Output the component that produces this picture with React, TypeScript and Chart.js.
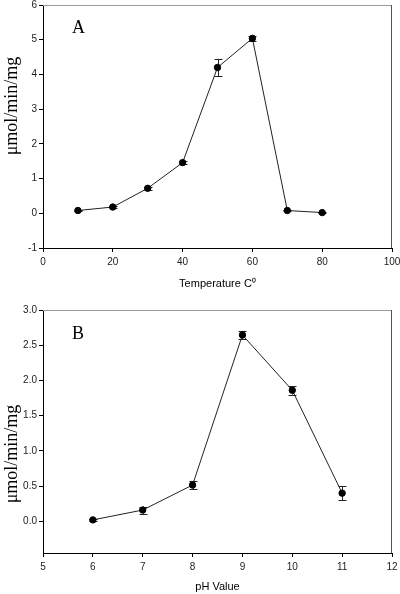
import React, { useEffect, useRef } from "react";
import { Chart, registerables } from "chart.js";

Chart.register(...registerables);

// ---- Data ----
const tempC = [10, 20, 30, 40, 50, 60, 70, 80];
const tempActivity = [0.08, 0.18, 0.72, 1.46, 4.2, 5.04, 0.08, 0.02];
const tempError = [0.02, 0.03, 0.04, 0.05, 0.25, 0.07, 0.02, 0.02];

const phValues = [6, 7, 8, 9, 10, 11];
const phActivity = [0.02, 0.16, 0.515, 2.645, 1.86, 0.4];
const phError = [0.01, 0.05, 0.06, 0.06, 0.06, 0.1];

const tempTicks = [0, 20, 40, 60, 80, 100];
const activityTicksA = [-1, 0, 1, 2, 3, 4, 5, 6];
const phTicks = [5, 6, 7, 8, 9, 10, 11, 12];
const activityTicksB = [0, 0.5, 1.0, 1.5, 2.0, 2.5, 3.0];

const yTitle = "μmol/min/mg";

type PanelProps = {
  top: number;
  height: number;
  xs: number[];
  ys: number[];
  errs: number[];
  xTicks: number[];
  yTicks: number[];
  xMin: number;
  xMax: number;
  yMin: number;
  yMax: number;
  yDecimals: number;
  xTitle: string;
  letter: string;
  letterX: number;
  letterY: number;
  yTitleY: number;
  padTop: number;
  xAxisHeight: number;
  xTitlePad: number;
};

const tickFont = { family: "'Liberation Sans', Arial, sans-serif", size: 10 };

function Panel(p: PanelProps) {
  const ref = useRef<HTMLCanvasElement | null>(null);
  useEffect(() => {
    if (!ref.current) return;
    const errorBars = {
      id: "errorBars",
      beforeDatasetsDraw(chart: any) {
        const ctx = chart.ctx;
        const xs = chart.scales.x;
        const ysc = chart.scales.y;
        ctx.save();
        ctx.strokeStyle = "#222";
        ctx.lineWidth = 1;
        p.xs.forEach((xv, i) => {
          const px = Math.round(xs.getPixelForValue(xv)) + 0.5;
          const y1 = ysc.getPixelForValue(p.ys[i] + p.errs[i]);
          const y2 = ysc.getPixelForValue(p.ys[i] - p.errs[i]);
          ctx.beginPath();
          ctx.moveTo(px, y1);
          ctx.lineTo(px, y2);
          ctx.moveTo(px - 4, Math.round(y1) + 0.5);
          ctx.lineTo(px + 4, Math.round(y1) + 0.5);
          ctx.moveTo(px - 4, Math.round(y2) + 0.5);
          ctx.lineTo(px + 4, Math.round(y2) + 0.5);
          ctx.stroke();
        });
        ctx.restore();
      },
    };
    const decorations = {
      id: "decorations",
      afterDraw(chart: any) {
        const ctx = chart.ctx;
        const a = chart.chartArea;
        ctx.save();
        ctx.lineWidth = 1;
        ctx.strokeStyle = "#9a9a9a";
        ctx.beginPath();
        ctx.moveTo(a.left, a.top + 0.5);
        ctx.lineTo(a.right, a.top + 0.5);
        ctx.stroke();
        ctx.strokeStyle = "#555";
        ctx.beginPath();
        ctx.moveTo(a.right - 0.5, a.top);
        ctx.lineTo(a.right - 0.5, a.bottom);
        ctx.stroke();
        // panel letter
        ctx.fillStyle = "#000";
        ctx.font = "18px 'Liberation Serif', 'Times New Roman', serif";
        ctx.textAlign = "left";
        ctx.textBaseline = "alphabetic";
        ctx.fillText(p.letter, p.letterX, p.letterY);
        // y title
        ctx.translate(12, p.yTitleY);
        ctx.rotate(-Math.PI / 2);
        ctx.textAlign = "center";
        ctx.textBaseline = "middle";
        ctx.fillText(yTitle, 0, 0);
        ctx.restore();
      },
    };
    const chart = new Chart(ref.current, {
      type: "line",
      data: {
        datasets: [
          {
            data: p.xs.map((x, i) => ({ x, y: p.ys[i] })),
            borderColor: "#222",
            borderWidth: 1,
            pointRadius: 3.2,
            pointBorderWidth: 1,
            pointBackgroundColor: "#000",
            pointBorderColor: "#000",
            tension: 0,
            fill: false,
          },
        ],
      },
      options: {
        animation: false,
        responsive: false,
        maintainAspectRatio: false,
        layout: { padding: { left: 0, right: 8, top: p.padTop, bottom: 0 } },
        plugins: { legend: { display: false }, tooltip: { enabled: false }, title: { display: false } },
        scales: {
          x: {
            type: "linear",
            min: p.xMin,
            max: p.xMax,
            afterBuildTicks: (s: any) => {
              s.ticks = p.xTicks.map((v) => ({ value: v }));
            },
            afterFit: (s: any) => {
              s.height = p.xAxisHeight;
              s.paddingLeft = 0;
              s.paddingRight = 0;
            },
            grid: { drawOnChartArea: false, drawTicks: true, tickLength: 4, tickColor: "#000" },
            border: { display: true, color: "#000", width: 1 },
            ticks: { font: tickFont, color: "#222", padding: 4, maxRotation: 0, autoSkip: false },
            title: {
              display: true,
              text: p.xTitle,
              color: "#000",
              font: { family: "'Liberation Sans', Arial, sans-serif", size: 11 },
              padding: { top: 0, bottom: p.xTitlePad },
            },
          },
          y: {
            type: "linear",
            min: p.yMin,
            max: p.yMax,
            afterBuildTicks: (s: any) => {
              s.ticks = p.yTicks.map((v) => ({ value: v }));
            },
            afterFit: (s: any) => {
              s.width = 43;
              s.paddingTop = 0;
              s.paddingBottom = 0;
            },
            grid: { drawOnChartArea: false, drawTicks: true, tickLength: 4, tickColor: "#000" },
            border: { display: true, color: "#000", width: 1 },
            ticks: {
              font: tickFont,
              color: "#222",
              padding: 2,
              autoSkip: false,
              callback: (v: any) => Number(v).toFixed(p.yDecimals),
            },
          },
        },
      },
      plugins: [errorBars, decorations],
    });
    return () => chart.destroy();
  }, []);
  return (
    <canvas
      ref={ref}
      width={400}
      height={p.height}
      style={{ position: "absolute", left: 0, top: p.top, width: 400, height: p.height }}
    />
  );
}

export default function App() {
  return (
    <div style={{ position: "fixed", left: 0, top: 0, width: 400, height: 594, background: "#fff" }}>
      <Panel
        top={0}
        height={300}
        xs={tempC}
        ys={tempActivity}
        errs={tempError}
        xTicks={tempTicks}
        yTicks={activityTicksA}
        xMin={0}
        xMax={100}
        yMin={-1}
        yMax={6}
        yDecimals={0}
        xTitle={"Temperature C⁰"}
        letter="A"
        letterX={72}
        letterY={33}
        yTitleY={106}
        padTop={4}
        xAxisHeight={52}
        xTitlePad={9}
      />
      <Panel
        top={300}
        height={294}
        xs={phValues}
        ys={phActivity}
        errs={phError}
        xTicks={phTicks}
        yTicks={activityTicksB}
        xMin={5}
        xMax={12}
        yMin={-0.45}
        yMax={3.0}
        yDecimals={1}
        xTitle="pH Value"
        letter="B"
        letterX={72}
        letterY={39}
        yTitleY={154}
        padTop={10}
        xAxisHeight={41}
        xTitlePad={0}
      />
    </div>
  );
}
